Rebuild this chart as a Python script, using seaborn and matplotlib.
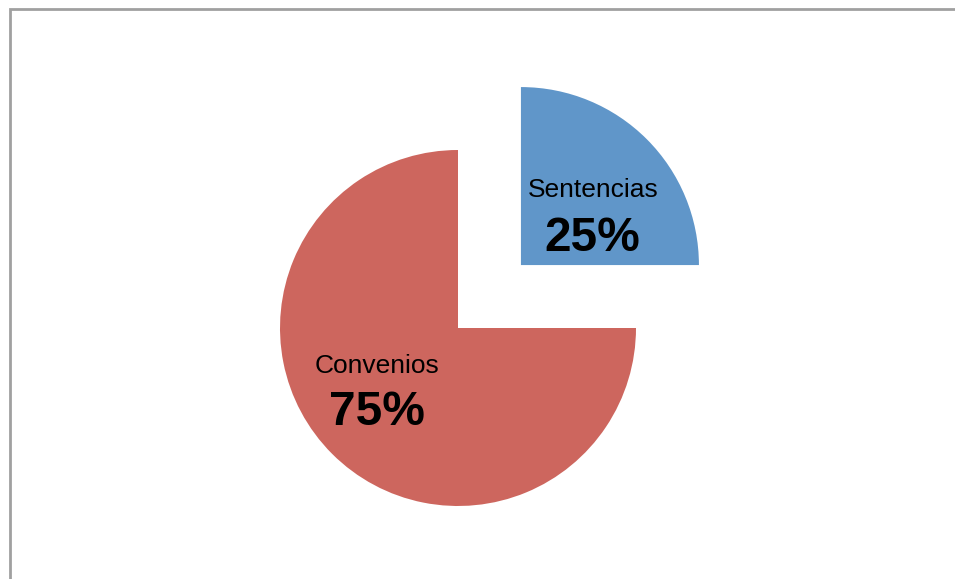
import numpy as np
import matplotlib
matplotlib.use("Agg")
import matplotlib.pyplot as plt
import matplotlib.patches as mpatches
import seaborn as sns

sns.set_theme(style="white")
plt.rcParams["font.family"] = ["Liberation Sans", "DejaVu Sans"]

# Share of resolutions by type
categories = ["Sentencias", "Convenios"]
values = [25, 75]
explode = [0.5, 0.0]
colors = ["#6096C9", "#CD665E"]

W, H, DPI = 955, 579, 100
fig = plt.figure(figsize=(W / DPI, H / DPI), dpi=DPI)
fig.patch.set_facecolor("white")
ax = fig.add_axes([0, 0, 1, 1])

# pie centre and radius in pixels, used to set data limits so the pie lands in place
cx, cy, r = 458, 328, 178
wedges, _ = ax.pie(values, explode=explode, colors=colors, startangle=90,
                   counterclock=False, radius=1.0,
                   wedgeprops=dict(linewidth=0))
ax.set_xlim(-cx / r, (W - cx) / r)
ax.set_ylim(-(H - cy) / r, cy / r)
ax.set_aspect("equal")
ax.axis("off")

# label anchors relative to each wedge's centre, in radius units:
# (name x, name y, percent x, percent y)
label_pos = {
    "Sentencias": (0.405, 0.422, 0.399, 0.151),
    "Convenios": (-0.454, -0.211, -0.454, -0.472),
}
for w, name, val in zip(wedges, categories, values):
    ox, oy = w.center
    nx, ny, px, py = label_pos[name]
    ax.text(ox + nx, oy + ny, name, ha="center", va="center",
            fontsize=19, color="black")
    ax.text(ox + px, oy + py, f"{val}%", ha="center", va="center",
            fontsize=34.5, fontweight="bold", color="black")

# chart frame
frame = mpatches.Rectangle((10 / W, -0.1), 1.2, 1.1 - 9.5 / H,
                           transform=fig.transFigure, fill=False,
                           edgecolor="#A0A0A0", linewidth=2.0)
fig.patches.append(frame)

fig.savefig("out.png", dpi=DPI, facecolor="white")
